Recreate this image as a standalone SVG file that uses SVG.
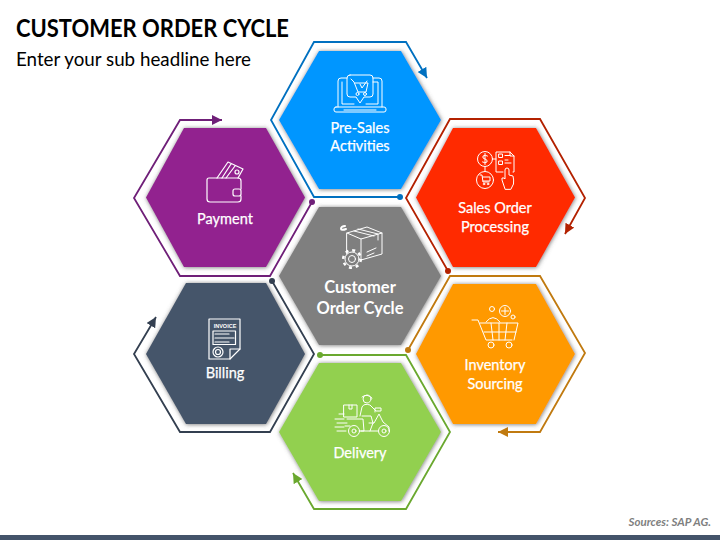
<svg xmlns="http://www.w3.org/2000/svg" width="720" height="540" viewBox="0 0 720 540">
<style>
.title{font:bold 24.5px "Lato","Liberation Sans",sans-serif;fill:#000}
.sub{font:19.5px "Lato","Liberation Sans",sans-serif;fill:#000}
.src{font:italic bold 11.5px "Lato","Liberation Sans",sans-serif;fill:#7f7f7f}
.lb{font:14.5px "Lato","Liberation Sans",sans-serif;fill:#fff;text-anchor:middle;stroke:#fff;stroke-width:.25}
.lbc{font:bold 16.5px "Lato","Liberation Sans",sans-serif;fill:#fff;text-anchor:middle}
.inv{font:bold 5.5px "Liberation Sans",sans-serif;fill:#fff;text-anchor:middle}
.hex{filter:url(#sh)}
.ic{fill:none;stroke:#fff;stroke-width:1;stroke-linejoin:round;stroke-linecap:round}
.ol{fill:none;stroke-width:1.8;stroke-linejoin:miter}
</style>
<defs>
<filter id="sh" x="-15%" y="-15%" width="130%" height="130%"><feDropShadow dx="0.5" dy="0.5" stdDeviation="2" flood-color="#555" flood-opacity=".8"/></filter>
<marker id="aB" markerUnits="userSpaceOnUse" markerWidth="12" markerHeight="12" refX="10" refY="5" orient="auto"><path d="M0 0L10 5L0 10Z" fill="#0070c0"/></marker>
<marker id="aR" markerUnits="userSpaceOnUse" markerWidth="12" markerHeight="12" refX="10" refY="5" orient="auto"><path d="M0 0L10 5L0 10Z" fill="#b32100"/></marker>
<marker id="aP" markerUnits="userSpaceOnUse" markerWidth="12" markerHeight="12" refX="10" refY="5" orient="auto"><path d="M0 0L10 5L0 10Z" fill="#6f1f78"/></marker>
<marker id="aS" markerUnits="userSpaceOnUse" markerWidth="12" markerHeight="12" refX="10" refY="5" orient="auto"><path d="M0 0L10 5L0 10Z" fill="#333f50"/></marker>
<marker id="aG" markerUnits="userSpaceOnUse" markerWidth="12" markerHeight="12" refX="10" refY="5" orient="auto"><path d="M0 0L10 5L0 10Z" fill="#6aa82f"/></marker>
<marker id="aO" markerUnits="userSpaceOnUse" markerWidth="12" markerHeight="12" refX="10" refY="5" orient="auto"><path d="M0 0L10 5L0 10Z" fill="#c07a10"/></marker>
</defs>
<rect width="720" height="540" fill="#fff"/>
<text class="title" x="16" y="37" textLength="273" lengthAdjust="spacingAndGlyphs">CUSTOMER ORDER CYCLE</text>
<text class="sub" x="16" y="66" textLength="235" lengthAdjust="spacingAndGlyphs">Enter your sub headline here</text>

<g id="center">
<polygon class="hex" points="319,207 401,207 441,276 401,345 319,345 279,276" fill="#7f7f7f"/>
<g class="ic">
<path d="M347 233L367 227L382 233V254L361 260L347 254Z"/><path d="M347 233L361 239L382 233M361 239V260M354 231L374 236M358 229L378 234V240"/><path d="M367 252L376 248M367 256L374 253"/>
<circle cx="352" cy="259" r="7" fill="#7f7f7f"/><circle cx="352" cy="259" r="3.500"/>
<circle cx="352" cy="259" r="8.800" stroke-dasharray="3 3.900" stroke-width="2.500" style="stroke-linecap:butt"/>
<path d="M346 229C339 232 340 226 345 226" stroke-width="2"/>
</g>
<text class="lbc" x="360" y="293">Customer</text><text class="lbc" x="360" y="314">Order Cycle</text>
</g>

<g id="pre-sales">
<polygon class="hex" points="319,51 401,51 441,120 401,189 319,189 279,120" fill="#0096ff"/>
<g class="ic">
<path d="M347 78H341Q338 78 338 81V107M373 78H379Q382 78 382 81V107M342 82V104H354M366 104H378V82H373"/>
<path d="M336 107H384Q386 107 386 109V110Q386 112 384 112H336Q334 112 334 110V109Q334 107 336 107ZM344 110H376"/>
<path d="M350 75H370Q373 75 373 78V94Q373 97 370 97H364L360 103L356 97H350Q347 97 347 94V78Q347 75 350 75Z"/>
<path d="M351 79L354 82L358 92H366L368 83H355M360 84L362 88L367 81"/><circle cx="357.500" cy="94" r="1.500"/><circle cx="365" cy="94" r="1.500"/>
</g>
<text class="lb" x="360" y="133">Pre-Sales</text><text class="lb" x="360" y="151">Activities</text>
</g>

<g id="sales-order">
<polygon class="hex" points="453,128 536,128 575,197.500 536,267 453,267 416,197.500" fill="#ff2a00"/>
<g class="ic">
<circle cx="485" cy="159" r="7.500"/><path d="M487.500 156Q485 154.500 483 156Q482 158.500 485 159Q488 160 487 162Q485 163.500 482.500 162M485 153.500V164.500"/>
<circle cx="485" cy="180" r="8.500"/><path d="M480 175H482L483 182H489M482.500 177H490V181H483"/><circle cx="484" cy="184" r=".8"/><circle cx="488" cy="184" r=".8"/>
<path d="M485 166.500V171.500M492.500 159H496"/>
<path d="M503 172H496V152H510L514 156V172H513M510 152V156H514"/>
<rect x="499" y="154" width="3.500" height="3.500"/><rect x="499" y="161" width="3.500" height="3.500"/><path d="M505 155.500H510M505 163H511M505 160H508"/>
<path d="M505 189L502 180Q501 177 504 178L505 179V170Q505 168 507 168Q509 168 509 170V175L513 176Q514 180 513.500 184L511 189Z" fill="#ff2a00"/>
</g>
<text class="lb" x="495" y="213">Sales Order</text><text class="lb" x="495" y="232">Processing</text>
</g>

<g id="inventory">
<polygon class="hex" points="453,284 536,284 575,354 536,424 453,424 416,354" fill="#ff9900"/>
<g class="ic">
<path d="M472 320H478L486 340H512M480 323H518L514 340M484 332H516M499 323V340M507 323L505 340M491 323L493 340"/>
<path d="M486 322Q493 313 500 322"/><circle cx="491" cy="345" r="3"/><circle cx="509" cy="345" r="3"/>
<circle cx="492" cy="309" r="2.500"/><circle cx="505" cy="311" r="5.500"/><path d="M505 307.500V314.500M501.500 311H508.500"/><circle cx="513" cy="317" r="2"/>
</g>
<text class="lb" x="495" y="370">Inventory</text><text class="lb" x="495" y="389">Sourcing</text>
</g>

<g id="delivery">
<polygon class="hex" points="319,363 401,363 441,432 401,501 319,501 279,432" fill="#92d050"/>
<g class="ic">
<circle cx="354" cy="431" r="5.500"/><circle cx="354" cy="431" r="2"/><circle cx="384" cy="431" r="5.500"/><circle cx="384" cy="431" r="2"/>
<path d="M344 405H357V417H344ZM349 405V409H352V405"/><path d="M347 419H363L364 431H360M345 426H350M347 423H337M335 419H344M339 414H344M335 427H344M337 431H346"/>
<circle cx="367" cy="399" r="4"/><path d="M362 397Q367 393 372 398"/>
<path d="M360 416L362 407Q364 403 370 405L376 411H381V408H375V412M362 416H371L373 423M369 423H374L379 414L383 422L389 427V431M378 431H361M373 423L370 431"/>
</g>
<text class="lb" x="360" y="458">Delivery</text>
</g>

<g id="billing">
<polygon class="hex" points="186,283 266,283 305,354 266,424 186,424 146,354" fill="#44546a"/>
<g class="ic" style="stroke-width:1.200">
<path d="M230 359H209V319H240V349Z"/><path d="M230 359V349H240"/><rect x="213" y="331" width="22.500" height="13.500"/>
<path d="M215 334H229M215 338H234M215 342H229"/><circle cx="218" cy="352" r="5"/><circle cx="218" cy="352" r="2.500"/>
</g>
<text class="inv" x="225" y="328">INVOICE</text>
<text class="lb" x="225" y="378">Billing</text>
</g>

<g id="payment">
<polygon class="hex" points="184,128 266,128 305,197.500 266,267 184,267 146,197.500" fill="#92208f"/>
<g class="ic" style="stroke-width:1.200">
<path d="M241 189V181Q241 178 238 178H209Q207 178 207 180V199Q207 202 210 202H238Q241 202 241 199V196"/>
<rect x="233" y="189" width="8" height="7" rx="2"/>
<path d="M217 178L228 162L243 169L238 178M222 178L231 164M226 178L235 166"/><circle cx="237" cy="172" r="2"/>
</g>
<text class="lb" x="225" y="224">Payment</text>
</g>

<g id="connectors">
<path class="ol" stroke="#0070c0" d="M400 197H314L271 120L314 42H406L427 78" marker-end="url(#aB)"/><circle cx="400" cy="197" r="3" fill="#0070c0"/>
<path class="ol" stroke="#b32100" d="M448 271L406 198L450 119H540L585 198L565 234" marker-end="url(#aR)"/><circle cx="448" cy="271" r="3" fill="#b32100"/>
<path class="ol" stroke="#c07a10" d="M408 350L450 276H540L585 353L540 432H498" marker-end="url(#aO)"/><circle cx="408" cy="350" r="3" fill="#c07a10"/>
<path class="ol" stroke="#6aa82f" d="M320 355H406L450 432L406 509H314L293 473" marker-end="url(#aG)"/><circle cx="320" cy="355" r="3" fill="#6aa82f"/>
<path class="ol" stroke="#333f50" d="M272 281L314 354L270 432H180L134 354L156 317" marker-end="url(#aS)"/><circle cx="272" cy="281" r="3" fill="#333f50"/>
<path class="ol" stroke="#6f1f78" d="M312 202L270 276H180L134 198L180 120H222" marker-end="url(#aP)"/><circle cx="312" cy="202" r="3" fill="#6f1f78"/>
</g>
<text class="src" x="711" y="526" text-anchor="end">Sources: SAP AG.</text>
<rect x="0" y="535" width="720" height="5" fill="#44546a"/>
</svg>
